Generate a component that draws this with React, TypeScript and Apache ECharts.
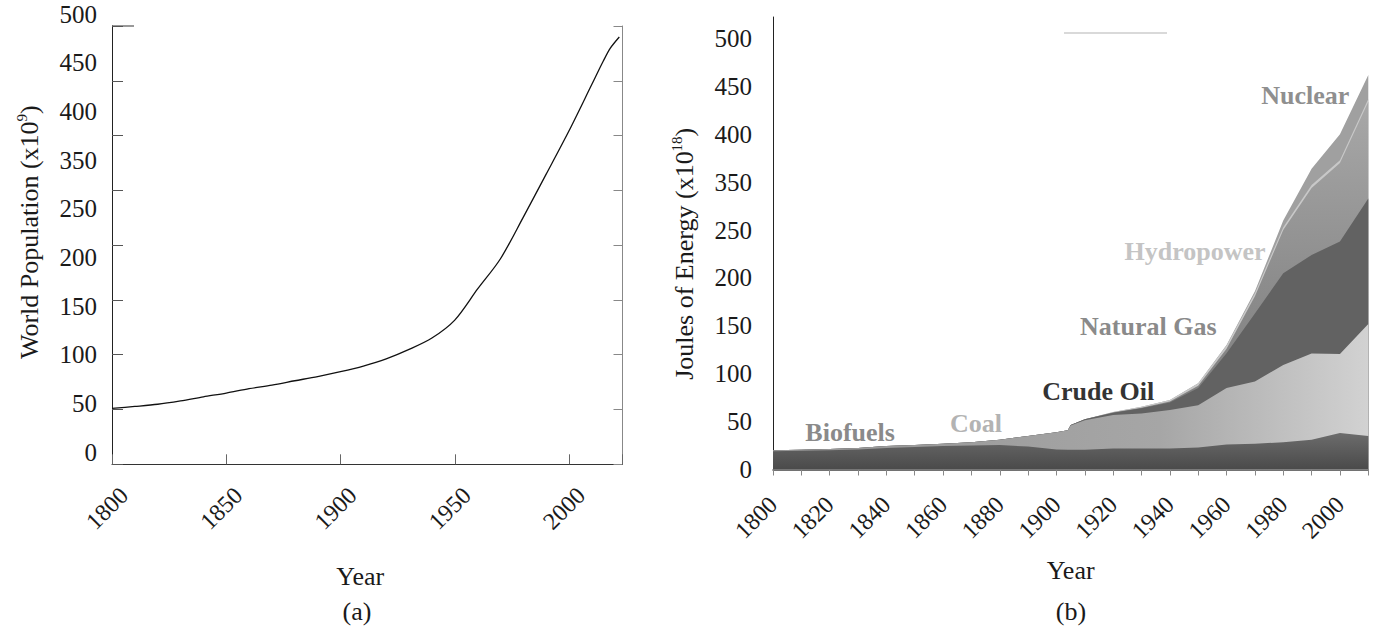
import React, { useEffect, useRef } from "react";
import * as echarts from "echarts";

const SERIF = '"Liberation Serif", "Times New Roman", Times, serif';
const INK = "#1a1a1a";

// ---- Panel (a): world population ----
const popYears = [
  1800, 1810, 1820, 1830, 1840, 1850, 1860, 1870, 1880, 1890, 1900, 1910, 1920,
  1930, 1940, 1950, 1960, 1970, 1980, 1990, 2000, 2010, 2015, 2018, 2022,
];
const popValues = [
  63.8, 66, 68.5, 72.4, 77, 81.3, 86.3, 90.4, 95.3, 100.1, 105.6, 112, 120.2,
  131, 144, 164.5, 200, 234.5, 282, 331, 380.5, 433.5, 460, 474.5, 487.5,
];
const popTickLabels = ["0", "50", "100", "150", "200", "250", "350", "400", "450", "500"];

// ---- Panel (b): energy by source (stacked layers) ----
const energyYears = [
  1800, 1810, 1820, 1830, 1840, 1850, 1860, 1870, 1880, 1890, 1900, 1904, 1905,
  1910, 1920, 1930, 1940, 1950, 1960, 1970, 1980, 1990, 2000, 2010,
];
const biofuels = [
  19, 19.5, 20, 21, 22.5, 23.5, 24.5, 25, 25.5, 24, 21, 20.5, 20.5,
  20.5, 22, 22, 22, 23, 26, 27, 28.5, 31, 38, 35,
];
const coal = [
  1, 1, 1.5, 1.5, 2, 2, 2.5, 3.5, 5.5, 11, 18, 20.5, 25.5,
  31, 35, 36.5, 40, 44, 59, 65, 80.5, 90, 82.5, 117,
];
const crudeOil = [
  0, 0, 0, 0, 0, 0, 0, 0, 0, 0, 0, 0, 0.5,
  1, 2.3, 5.5, 8, 18, 36.3, 71, 96, 103, 117.5, 131,
];
const naturalGas = [
  0, 0, 0, 0, 0, 0, 0, 0, 0, 0, 0, 0, 0,
  0, 0.2, 0.6, 1, 2.5, 4.7, 18, 45, 70, 82, 101,
];
const hydropower = [
  0, 0, 0, 0, 0, 0, 0, 0, 0, 0, 0, 0, 0,
  0, 0.5, 1, 1.5, 2.5, 3.5, 3, 3, 3, 3, 3,
];
const nuclear = [
  0, 0, 0, 0, 0, 0, 0, 0, 0, 0, 0, 0, 0,
  0, 0, 0, 0, 0, 0.5, 2, 7, 17, 27, 25,
];
const energyTickLabels = ["0", "50", "100", "150", "200", "250", "350", "400", "450", "500"];

const sourceNames = ["Biofuels", "Coal", "Crude Oil", "Natural Gas", "Hydropower", "Nuclear"];
const sourceLayers = [biofuels, coal, crudeOil, naturalGas, hydropower, nuclear];

// Appearance of each layer and where its name is written (year, axis value)
const sourceLook: Record<string, { fill: any; text: string; at: [number, number] }> = {
  Biofuels: {
    fill: new echarts.graphic.LinearGradient(0, 0, 0, 1, [
      { offset: 0, color: "#6c6c6c" },
      { offset: 1, color: "#4a4a4a" },
    ]),
    text: "#8a8a8a",
    at: [1827.2, 39.1],
  },
  Coal: {
    fill: new echarts.graphic.LinearGradient(0, 0, 1, 0, [
      { offset: 0, color: "#959595" },
      { offset: 0.65, color: "#a6a6a6" },
      { offset: 1, color: "#d2d2d2" },
    ]),
    text: "#b3b3b3",
    at: [1871.6, 48.5],
  },
  "Crude Oil": { fill: "#626262", text: "#333333", at: [1914.7, 81.6] },
  "Natural Gas": {
    fill: new echarts.graphic.LinearGradient(0, 0, 0, 1, [
      { offset: 0, color: "#a8a8a8" },
      { offset: 0.5, color: "#8c8c8c" },
      { offset: 1, color: "#7a7a7a" },
    ]),
    text: "#8a8a8a",
    at: [1932.4, 149.8],
  },
  Hydropower: { fill: "#c8c8c8", text: "#c4c4c4", at: [1948.9, 228] },
  Nuclear: { fill: "#a0a0a0", text: "#8f8f8f", at: [1987.8, 391] },
};

function buildOption() {
  // running totals, so each layer is drawn as the area under its own top edge
  const tops: number[][] = [];
  sourceLayers.forEach((layer, k) => {
    tops.push(layer.map((v, i) => v + (k > 0 ? tops[k - 1][i] : 0)));
  });

  const energySeries: any[] = [];
  for (let k = sourceNames.length - 1; k >= 0; k--) {
    const name = sourceNames[k];
    const look = sourceLook[name];
    energySeries.push({
      type: "line",
      name,
      xAxisIndex: 1,
      yAxisIndex: 3,
      data: energyYears.map((y, i) => [y, tops[k][i]]),
      symbol: "none",
      showSymbol: false,
      lineStyle: { width: 0, opacity: 0 },
      areaStyle: { color: look.fill, opacity: 1 },
      silent: true,
      markPoint: {
        symbol: "circle",
        symbolSize: 1,
        silent: true,
        itemStyle: { color: "rgba(0,0,0,0)" },
        label: {
          show: true,
          position: "inside",
          formatter: name,
          fontSize: 26,
          fontWeight: "bold",
          fontFamily: SERIF,
          color: look.text,
        },
        data: [{ coord: look.at }],
      },
    });
  }

  const rotatedLabel = {
    rotate: 45,
    fontSize: 24,
    color: INK,
    fontFamily: SERIF,
  };

  return {
    animation: false,
    backgroundColor: "#ffffff",
    textStyle: { fontFamily: SERIF },
    grid: [
      { left: 112, top: 26, width: 510.5, height: 438.3, containLabel: false, outerBoundsMode: "none" },
      { left: 773, top: 17, width: 595.3, height: 452.5, containLabel: false, outerBoundsMode: "none" },
    ],
    xAxis: [
      {
        type: "value",
        gridIndex: 0,
        min: 1800,
        max: 2023.4,
        interval: 50,
        axisLine: { show: true, onZero: false, lineStyle: { color: "#333", width: 1 } },
        axisTick: { show: true, inside: true, length: 10, lineStyle: { color: "#666" } },
        axisLabel: {
          ...rotatedLabel,
          margin: 15,
          verticalAlign: "top",
          lineHeight: 34,
          formatter: (v: number) => (v % 50 === 0 ? String(v) : ""),
        },
        splitLine: { show: false },
        name: "Year",
        nameLocation: "middle",
        nameGap: 99,
        nameTextStyle: { fontSize: 26, color: INK, fontFamily: SERIF, padding: [0, 14, 0, 0] },
      },
      {
        type: "value",
        gridIndex: 1,
        min: 1800,
        max: 2010,
        interval: 10,
        axisLine: { show: true, onZero: false, lineStyle: { color: "#444", width: 1.5 } },
        axisTick: { show: true, inside: false, length: 6, lineStyle: { color: "#888" } },
        axisLabel: {
          ...rotatedLabel,
          margin: 31,
          formatter: (v: number) => (v % 20 === 0 ? String(v) : ""),
        },
        splitLine: { show: false },
        name: "Year",
        nameLocation: "middle",
        nameGap: 88,
        nameTextStyle: { fontSize: 26, color: INK, fontFamily: SERIF },
      },
    ],
    yAxis: [
      {
        // panel (a) scale with its tick marks
        type: "value",
        gridIndex: 0,
        min: 0,
        max: 500,
        interval: 62.5,
        position: "left",
        axisLine: { show: true, onZero: false, lineStyle: { color: "#222" } },
        axisTick: { show: true, inside: true, length: 11, lineStyle: { color: "#555" } },
        axisLabel: { show: false },
        splitLine: { show: false },
      },
      {
        // panel (a) printed tick labels
        type: "category",
        gridIndex: 0,
        position: "left",
        data: popTickLabels,
        boundaryGap: false,
        axisLine: { show: false },
        axisTick: { show: false },
        splitLine: { show: false },
        axisLabel: {
          interval: 0,
          fontSize: 25,
          color: INK,
          fontFamily: SERIF,
          margin: 15,
          verticalAlign: "bottom",
          lineHeight: 24,
        },
        name: "{t|World Population (x10}{s|9}{t|)}",
        nameLocation: "middle",
        nameGap: 68,
        nameTextStyle: {
          padding: [0, 0, 0, 26],
          rich: {
            t: { fontSize: 26, fontFamily: SERIF, color: INK, lineHeight: 30 },
            s: { fontSize: 15, fontFamily: SERIF, color: INK, lineHeight: 16, verticalAlign: "top" },
          },
        },
      },
      {
        // panel (a) right frame
        type: "value",
        gridIndex: 0,
        min: 0,
        max: 500,
        interval: 62.5,
        position: "right",
        axisLine: { show: true, onZero: false, lineStyle: { color: "#888" } },
        axisTick: { show: true, inside: true, length: 9, lineStyle: { color: "#888" } },
        axisLabel: { show: false },
        splitLine: { show: false },
      },
      {
        // panel (b) energy scale
        type: "value",
        gridIndex: 1,
        min: 0,
        max: 472.5,
        interval: 50,
        position: "left",
        axisLine: { show: true, onZero: false, lineStyle: { color: "#222" } },
        axisTick: { show: false },
        splitLine: { show: false },
        axisLabel: {
          fontSize: 25,
          color: INK,
          fontFamily: SERIF,
          margin: 21,
          padding: [7, 0, 0, 0],
          formatter: (v: number) => {
            const i = v / 50;
            return Number.isInteger(i) && i < energyTickLabels.length ? energyTickLabels[i] : "";
          },
        },
        name: "{t|Joules of Energy (x10}{s|18}{t|)}",
        nameLocation: "middle",
        nameGap: 74,
        nameTextStyle: {
          padding: [0, 21, 0, 0],
          rich: {
            t: { fontSize: 26, fontFamily: SERIF, color: INK, lineHeight: 30 },
            s: { fontSize: 15, fontFamily: SERIF, color: INK, lineHeight: 16, verticalAlign: "top" },
          },
        },
      },
    ],
    series: [
      {
        type: "line",
        name: "World Population",
        xAxisIndex: 0,
        yAxisIndex: 0,
        data: popYears.map((y, i) => [y, popValues[i]]),
        symbol: "none",
        showSymbol: false,
        smooth: 0.3,
        lineStyle: { color: "#111", width: 1.3 },
        silent: true,
      },
      ...energySeries,
    ],
    graphic: [
      { type: "line", shape: { x1: 112, y1: 26, x2: 134, y2: 26 }, style: { stroke: "#777", lineWidth: 1.5 } },
      { type: "line", shape: { x1: 1064, y1: 33, x2: 1167, y2: 33 }, style: { stroke: "#cdcdcd", lineWidth: 1.5 } },
      {
        type: "text",
        x: 357,
        y: 611,
        style: { text: "(a)", fontSize: 26, fontFamily: SERIF, fill: INK, align: "center", verticalAlign: "middle" },
      },
      {
        type: "text",
        x: 1071,
        y: 611,
        style: { text: "(b)", fontSize: 26, fontFamily: SERIF, fill: INK, align: "center", verticalAlign: "middle" },
      },
    ],
  };
}

export default function App() {
  const ref = useRef<HTMLDivElement>(null);

  useEffect(() => {
    if (!ref.current) return;
    const chart = echarts.init(ref.current, undefined, { renderer: "svg" });
    chart.setOption(buildOption() as any);
    return () => chart.dispose();
  }, []);

  return (
    <div
      ref={ref}
      style={{ position: "absolute", left: 0, top: 0, width: 1376, height: 626, background: "#fff" }}
    />
  );
}
